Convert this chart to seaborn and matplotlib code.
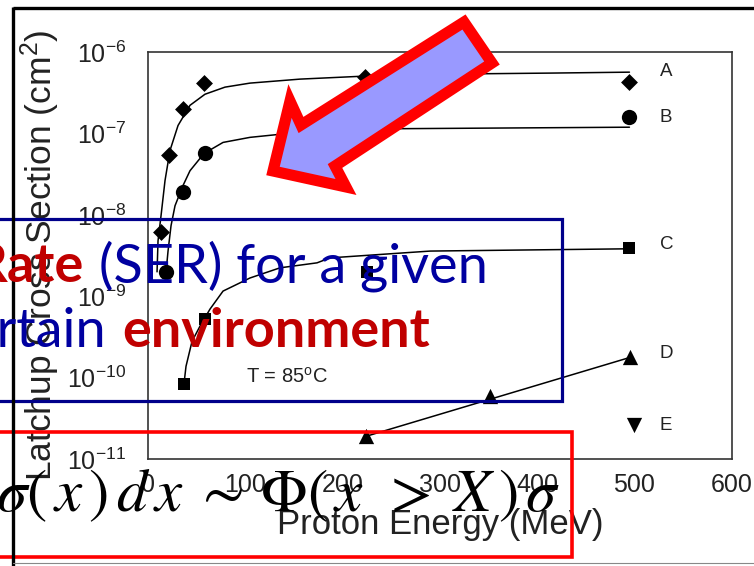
import matplotlib
matplotlib.use("Agg")
import matplotlib.pyplot as plt
import seaborn as sns
from matplotlib.patches import Polygon, Rectangle
from matplotlib.lines import Line2D
from matplotlib.ticker import FixedLocator, FixedFormatter, NullLocator

# ---------------- data: latchup cross section (cm^2) vs proton energy (MeV) ----------------
energy_a = [13, 21, 36, 57, 223, 495]
sigma_a = [6.2e-9, 5.5e-8, 2.0e-7, 4.2e-7, 5.0e-7, 4.3e-7]
energy_b = [18, 36, 58, 495]
sigma_b = [2.0e-9, 1.9e-8, 5.8e-8, 1.6e-7]
energy_c = [37, 58, 225, 495]
sigma_c = [8.3e-11, 5.2e-10, 2.0e-9, 3.9e-9]
energy_d = [224, 352, 496]
sigma_d = [1.9e-11, 5.9e-11, 1.78e-10]
energy_e = [500]
sigma_e = [2.6e-11]

# fitted curves (Weibull-like saturation)
fit_a_energy = [9, 10, 13.1, 17.2, 22.3, 30.6, 42.9, 58.3, 78.9, 104.6, 156, 223, 310, 413, 495]
fit_a_sigma = [2.0e-9, 4.8e-9, 9.8e-9, 2.65e-8, 6.2e-8, 1.26e-7, 2.23e-7, 3.05e-7,
               3.73e-7, 4.18e-7, 4.68e-7, 5.1e-7, 5.4e-7, 5.55e-7, 5.7e-7]
fit_b_energy = [18.2, 20.3, 23.4, 27.5, 35.7, 42.9, 57.3, 76.9, 104.6, 156, 256, 495]
fit_b_sigma = [1.94e-9, 3.6e-9, 7.4e-9, 1.3e-8, 2.3e-8, 3.5e-8, 5.7e-8, 7.8e-8,
               9.0e-8, 1.04e-7, 1.15e-7, 1.2e-7]
fit_c_energy = [36.5, 38.8, 45, 53.2, 63.5, 76.9, 104.6, 135.5, 173.6, 187, 290, 495]
fit_c_sigma = [8.0e-11, 1.38e-10, 2.8e-10, 4.3e-10, 6.97e-10, 1.16e-9, 1.68e-9, 2.24e-9,
               2.58e-9, 2.97e-9, 3.6e-9, 3.84e-9]
fit_d_energy = [224, 496]
fit_d_sigma = [1.9e-11, 1.78e-10]

series_names = ["A", "B", "C", "D", "E"]
series_label_sigma = [5.75e-7, 1.6e-7, 4.3e-9, 2.0e-10, 2.6e-11]

x_ticks = [0, 100, 200, 300, 400, 500, 600]
y_ticks = [1e-11, 1e-10, 1e-9, 1e-8, 1e-7, 1e-6]
y_tick_labels = [r"$10^{-11}$", r"$10^{-10}$", r"$10^{-9}$", r"$10^{-8}$", r"$10^{-7}$", r"$10^{-6}$"]

# ---------------- style ----------------
sns.set_theme(style="white")
plt.rcParams["font.family"] = ["Liberation Sans", "DejaVu Sans"]
plt.rcParams["mathtext.fontset"] = "custom"
plt.rcParams["mathtext.rm"] = "Liberation Sans"
plt.rcParams["mathtext.it"] = "Liberation Sans:italic"
plt.rcParams["mathtext.bf"] = "Liberation Sans:bold"

W, H = 754, 566
fig = plt.figure(figsize=(W / 100, H / 100), dpi=100, facecolor="white")

# main axes box in pixel coordinates
left_px, right_px, top_px, bottom_px = 148.3, 731.5, 52.3, 459.0
ax = fig.add_axes([left_px / W, 1 - bottom_px / H,
                   (right_px - left_px) / W, (bottom_px - top_px) / H])
ax.set_facecolor("white")

ink = "black"
for e, s in [(fit_a_energy, fit_a_sigma), (fit_b_energy, fit_b_sigma),
             (fit_c_energy, fit_c_sigma), (fit_d_energy, fit_d_sigma)]:
    sns.lineplot(x=e, y=s, sort=False, estimator=None, color=ink, lw=1.1, ax=ax)

sns.scatterplot(x=energy_a, y=sigma_a, marker="D", s=8.6 ** 2, color=ink, edgecolor=ink, linewidth=0, ax=ax, zorder=3)
sns.scatterplot(x=energy_b, y=sigma_b, marker="o", s=11 ** 2, color=ink, edgecolor=ink, linewidth=0, ax=ax, zorder=3)
sns.scatterplot(x=energy_c, y=sigma_c, marker="s", s=9.2 ** 2, color=ink, edgecolor=ink, linewidth=0, ax=ax, zorder=3)
sns.scatterplot(x=energy_d, y=sigma_d, marker="^", s=11 ** 2, color=ink, edgecolor=ink, linewidth=0, ax=ax, zorder=3)
sns.scatterplot(x=energy_e, y=sigma_e, marker="v", s=11 ** 2, color=ink, edgecolor=ink, linewidth=0, ax=ax, zorder=3)

for name, sv in zip(series_names, series_label_sigma):
    ax.text(526, sv, name, fontsize=13.5, color="#222222", ha="left", va="center")

ax.text(101, 1.04e-10, "T = 85$^{\\mathrm{o}}$C", fontsize=14.5, color="#222222", ha="left", va="center")

ax.set_yscale("log")
ax.set_xlim(0, 600)
ax.set_ylim(1e-11, 1e-6)
ax.xaxis.set_major_locator(FixedLocator(x_ticks))
ax.yaxis.set_major_locator(FixedLocator(y_ticks))
ax.yaxis.set_major_formatter(FixedFormatter(y_tick_labels))
ax.yaxis.set_minor_locator(NullLocator())
ax.xaxis.set_minor_locator(NullLocator())
ax.tick_params(axis="both", which="major", direction="in", length=8.5, width=1.1,
               color="#333333", labelcolor="#222222", labelsize=18)
ax.tick_params(axis="y", pad=16)
ax.tick_params(axis="x", pad=10)
for sp in ax.spines.values():
    sp.set_color("#333333")
    sp.set_linewidth(1.2)

ax.set_xlabel("Proton Energy (MeV)", fontsize=25, color="#222222")
ax.set_ylabel("Latchup Cross Section (cm$^2$)", fontsize=25.5, color="#222222")
ax.xaxis.set_label_coords(0.5, -0.12)
ax.yaxis.set_label_coords(-0.185, 0.5)
ax.yaxis.label.set_va("center")

# ---------------- slide overlay (pixel coordinates) ----------------
ov = fig.add_axes([0, 0, 1, 1], zorder=10)
ov.set_xlim(0, W)
ov.set_ylim(H, 0)
ov.axis("off")
ov.patch.set_alpha(0)

# slide frame
ov.add_line(Line2D([13, W + 5], [8, 8], color="black", lw=2.4, solid_capstyle="butt"))
ov.add_line(Line2D([13, 13], [7, H + 5], color="black", lw=2.4, solid_capstyle="butt"))
ov.add_line(Line2D([13, W + 5], [563, 563], color="#888888", lw=0.8))

# callout arrow
arrow_pts = [(464, 22), (492, 63), (335, 166), (346, 187), (273, 171), (290, 101), (301, 125)]
ov.add_patch(Polygon(arrow_pts, closed=True, facecolor="#9999FF", edgecolor="#FF0000",
                     lw=8, joinstyle="miter"))

# text boxes
ov.add_patch(Rectangle((-20, 218.5), 581.5, 182.5, fill=False, edgecolor="#00008B", lw=2.3))
ov.add_patch(Rectangle((-20, 431.5), 591.5, 125.5, fill=False, edgecolor="#FF0000", lw=2.6))

slide_font = ["Lato", "DejaVu Sans"]
dark_red = "#C00000"
blue = "#0000A0"
ov.text(84, 282, "Rate", family=slide_font, fontsize=39, fontweight="bold", color=dark_red,
        ha="right", va="baseline")
ov.text(99, 282, "(SER) for a given", family=slide_font, fontsize=39, color=blue,
        ha="left", va="baseline")
ov.text(106, 347, "certain", family=slide_font, fontsize=39, color=blue,
        ha="right", va="baseline")
ov.text(122, 347, "environment", family=slide_font, fontsize=39, fontweight="bold", color=dark_red,
        ha="left", va="baseline")

ov.text(-4, 511, r"$\sigma(\,x\,)\,d\,x\;\sim\,\Phi(\,x\;\,>\;X\,)\,\sigma$", fontsize=44, color="black",
        math_fontfamily="stix", ha="left", va="baseline")

fig.savefig("out.png", dpi=100, facecolor="white")
